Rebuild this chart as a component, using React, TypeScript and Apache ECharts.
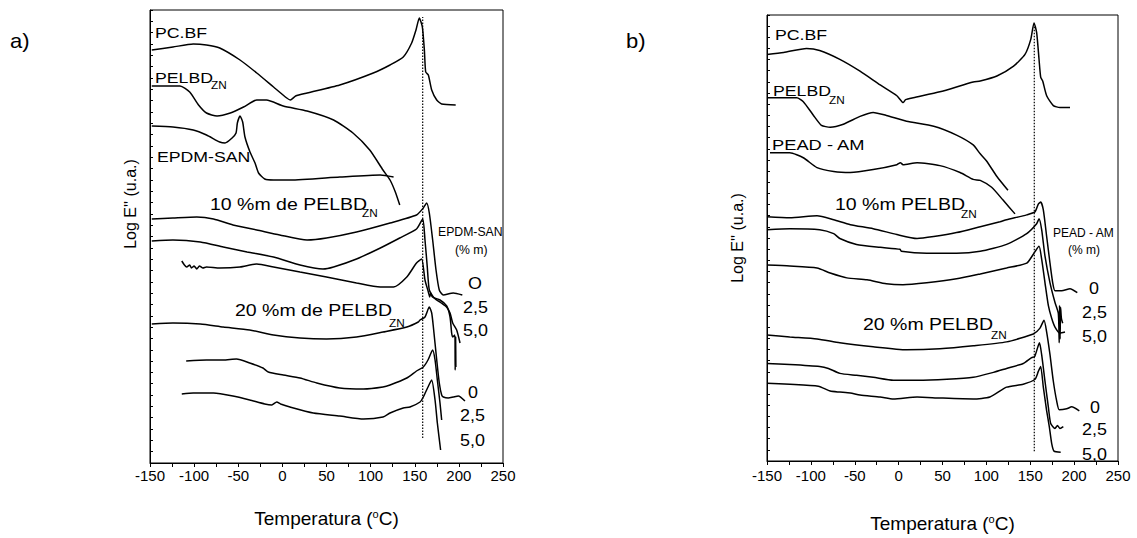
import React, { useEffect, useRef } from "react";
import * as echarts from "echarts";

// ---------- data: temperature (°C) vs Log E'' (arbitrary units, stacked) ----------
const X_MIN = -150;
const X_MAX = 250;
const X_STEP = 50;
const Y_MIN = 0;
const Y_MAX = 45.3;

// Panel a)
const PCBF_A = [[-148,41.3],[-124,41.6],[-101,41.9],[-86,41.8],[-71,41.5],[-48,40.3],[-29,39.0],[-10,37.6],[5,36.5],[9,36.3],[15,36.7],[28,37.0],[65,37.8],[103,39.0],[122,39.8],[137,40.6],[146.5,42.0],[151.4,43.3],[155.2,44.5],[158.6,43.6],[160.9,41.3],[162.4,39.1],[165.4,38.8],[169.2,37.3],[174.9,36.3],[180.5,35.9],[196.4,35.8]];
const PELBD_A = [[-148,37.7],[-116,37.7],[-105,37.1],[-95,35.8],[-86,35.0],[-74,34.7],[-59,35.0],[-44,35.6],[-29,36.3],[-18,36.3],[1,35.7],[28,35.2],[58,34.3],[80,33.0],[99,31.3],[114,29.3],[122,28.3],[128,27.1],[133,25.8]];
const EPDM_A = [[-148,33.7],[-124,33.6],[-101,33.3],[-86,32.8],[-71,32.1],[-65,32.0],[-57,32.5],[-52.5,33.0],[-51,34.0],[-48,34.7],[-45,34.1],[-42.4,32.6],[-36.7,31.1],[-31,30.0],[-27,29.0],[-20,28.4],[-10,28.3],[9,28.3],[65,28.6],[111,28.8],[126,28.6]];
const A10_0 = [[-148,24.4],[-124,24.5],[-97,24.6],[-78,24.4],[-56,23.8],[-29,23.3],[-3,22.8],[28,22.3],[50,22.5],[84,23.1],[122,24.0],[152,24.8],[159.7,25.5],[163.5,26.0],[166.5,25.0],[170.3,22.3],[174.1,19.3],[177.8,17.3],[182.4,16.8],[193.7,17.0],[203.9,16.8]];
const A10_25 = [[-148,22.2],[-124,22.3],[-93,22.1],[-67,21.6],[-40,21.1],[-10,20.6],[20,19.8],[46,19.4],[58,19.6],[84,20.4],[111,21.5],[133,22.5],[152,23.4],[159,24.4],[161.6,22.3],[164.2,19.6],[166.5,17.3],[172,16.5],[180,16.0],[186,15.6],[190,15.0],[193,14.0],[197.5,13.3],[201.3,12.0]];
const A10_50 = [[-114,20.2],[-111,19.8],[-108.4,19.6],[-105,19.8],[-103,19.5],[-100,19.7],[-97,19.4],[-94,19.7],[-90,19.5],[-86,19.6],[-71,19.5],[-48,19.6],[-29,19.9],[-10,19.6],[20,19.1],[50,18.6],[84,18.0],[111,17.6],[126,17.6],[141,18.6],[152,20.0],[157.8,20.4],[161.6,18.3],[165.4,17.1],[167,16.6],[168,17.0],[170,16.6],[178.6,16.3],[186.2,15.7],[190,14.6],[191.8,13.0],[193,12.6],[195.5,12.8],[195.8,9.3],[196.3,12.6],[196.6,9.6]];
const A20_0 = [[-148,13.9],[-124,14.0],[-93,13.9],[-67,13.6],[-37,13.3],[-10,12.8],[20,12.5],[50,12.4],[84,12.6],[114,13.1],[141,13.6],[154,14.1],[156,14.3],[161.6,14.6],[166.5,15.6],[169.2,15.0],[171.1,13.6],[174.9,10.3],[177.8,8.0],[180.5,6.8],[182.4,6.6],[188,6.5],[193.7,6.6],[199.4,6.7],[206.9,6.2]];
const A20_25 = [[-109,10.2],[-86,10.3],[-67,10.3],[-52,10.4],[-37,10.0],[-22,9.5],[-16,9.1],[1,8.8],[20,8.5],[39,8.0],[65,7.5],[92,7.4],[114,7.6],[122,7.8],[141,8.5],[152,9.2],[159.7,9.6],[165,10.3],[170.3,11.3],[173,10.3],[175.6,8.3],[178.6,6.0],[180.5,4.3]];
const A20_50 = [[-114,6.9],[-101,7.0],[-78,7.0],[-56,6.7],[-37,6.3],[-20,5.9],[-12,5.8],[-6.4,6.1],[-2,5.9],[8.6,5.6],[35,5.0],[65,4.7],[92,4.4],[114,4.6],[122,5.0],[137,5.5],[144.6,5.6],[156,6.1],[159.7,6.6],[165,7.6],[169.2,8.3],[173,6.3],[175.6,4.0],[179.3,1.3]];
const REF_A = [[159,2.5],[159,44.6]];

// Panel b)
const PCBF_B = [[-150,41.3],[-131,41.5],[-105,41.9],[-90,41.7],[-67,40.8],[-44,39.6],[-21,38.2],[-2,37.1],[5.3,36.4],[8,36.7],[16.7,36.9],[47,37.5],[85,38.5],[93,38.6],[112,39.1],[131,40.1],[144,41.3],[150.5,42.8],[154.3,44.5],[157.3,43.5],[160,40.8],[161.9,39.0],[164.2,38.6],[168.7,37.1],[176.3,36.1],[183.9,35.9],[195.3,35.9]];
const PELBD_B = [[-150,36.9],[-116,36.9],[-108.6,36.5],[-97,35.1],[-88,34.1],[-78,33.9],[-63,34.2],[-44,35.0],[-29,35.4],[-14,35.1],[9,34.5],[40,34.0],[66,33.1],[85,32.1],[93,31.2],[100,30.5],[112,28.9],[124.6,27.5]];
const PEAD_B = [[-146.6,31.3],[-124,31.3],[-108.6,30.8],[-93,29.8],[-74,29.4],[-55,29.3],[-29,29.6],[-2,30.1],[2,30.3],[5,30.1],[21,30.3],[47,30.0],[70,29.3],[85,28.6],[93,28.5],[106,27.8],[119,26.5],[132.6,25.1]];
const B10_0 = [[-150,24.8],[-124,24.7],[-93,24.9],[-74,24.5],[-55,24.0],[-29,23.6],[-2,23.0],[21,22.6],[40,22.8],[66,23.2],[93,23.8],[115.5,24.3],[123,24.5],[146,25.0],[155.4,25.3],[159.2,26.1],[161.9,26.3],[164.9,25.5],[168.7,22.8],[172.5,20.1],[175.6,18.1],[178.2,17.3],[185.8,17.3],[195.3,17.5],[203.6,17.1]];
const B10_25 = [[-150,23.5],[-124,23.6],[-90,23.5],[-74,23.1],[-67,22.6],[-48,22.0],[-21,21.7],[1.6,21.5],[3,21.3],[32,21.1],[66,21.1],[93,21.3],[123,22.0],[146,23.1],[157.3,24.1],[160,24.6],[163,23.5],[166.8,20.8],[172.5,18.1],[178.2,16.1],[182,15.0],[183,12.0],[183.4,15.8],[184,12.4],[184.6,15.6],[185.5,14.5],[187,14.0]];
const B10_50 = [[-150,19.9],[-124,19.8],[-93,19.6],[-78,19.1],[-59,18.6],[-36,18.4],[-14,18.0],[5,17.9],[32,18.1],[66,18.5],[93,19.0],[123,19.6],[146,20.1],[153.5,21.0],[160,21.8],[163,20.5],[166.8,18.1],[170.6,15.8],[174.4,14.5],[178.2,13.6],[183.9,13.0],[189.6,13.1]];
const B20_0 = [[-150,12.8],[-124,12.6],[-93,12.4],[-67,12.0],[-29,11.6],[9,11.3],[47,11.4],[85,11.7],[123,12.1],[153.5,12.9],[161.1,13.5],[165.7,14.3],[168.7,13.1],[172.5,10.8],[176.3,8.1],[180.1,6.1],[183.1,5.2],[191.5,5.3],[197.2,5.5],[205.9,5.1]];
const B20_25 = [[-150,9.9],[-124,9.8],[-90,9.6],[-80,9.4],[-67,8.9],[-48,8.7],[-29,8.5],[-6,8.2],[21,8.2],[55,8.3],[85,8.5],[108,9.0],[123,9.4],[142,9.9],[151.6,10.5],[155,10.6],[160.5,12.0],[163,10.8],[166.8,8.1],[170.6,5.5],[173.3,3.8],[178.2,3.3],[181,3.6],[183.9,3.3],[187.7,3.5]];
const B20_50 = [[-150,7.9],[-124,7.8],[-91.5,7.6],[-78,7.1],[-67,7.0],[-55,6.9],[-44,6.7],[-21,6.5],[-6,6.3],[21,6.5],[47,6.4],[85,6.3],[104,6.5],[123,7.5],[142,7.8],[155.4,8.3],[159.2,9.1],[161.9,9.6],[164.9,7.5],[168.7,5.1],[171.7,3.5],[174.4,1.8],[177.1,1.0],[184.7,0.9]];
const REF_B = [[154.6,1.0],[154.6,44.2]];

const PANEL_A_CURVES = [PCBF_A, PELBD_A, EPDM_A, A10_0, A10_25, A10_50, A20_0, A20_25, A20_50];
const PANEL_B_CURVES = [PCBF_B, PELBD_B, PEAD_B, B10_0, B10_25, B10_50, B20_0, B20_25, B20_50];

const X_NAME = "Temperatura ({sup|o}C)";
const Y_NAME = "Log E'' (u.a.)";

// ---------- styling ----------
const FONT = "'Liberation Sans', Arial, Helvetica, sans-serif";

function txt(text: string, x: number, y: number, size: number, scale = 1.18, rotation = 0, align = "left") {
  return {
    type: "text",
    x,
    y,
    scaleX: scale,
    rotation,
    silent: true,
    style: {
      text,
      fontSize: size,
      fontFamily: FONT,
      fill: "#000",
      textAlign: align,
      textVerticalAlign: "middle",
      align,
      verticalAlign: "middle",
    },
  };
}

function xAxisFor(gridIndex: number, labelMargin: number, nameGap: number) {
  return {
    type: "value",
    gridIndex,
    min: X_MIN,
    max: X_MAX,
    interval: X_STEP,
    axisLine: { show: true, onZero: false, lineStyle: { color: "#000", width: 1 } },
    axisTick: { show: true, inside: false, length: 4, lineStyle: { color: "#000" } },
    minorTick: { show: true, splitNumber: 2, length: 4, lineStyle: { color: "#000" } },
    splitLine: { show: false },
    axisLabel: { color: "#000", fontSize: 15, fontFamily: FONT, margin: labelMargin },
    name: X_NAME,
    nameLocation: "middle",
    nameGap,
    nameTextStyle: {
      color: "#000",
      fontSize: 19,
      fontFamily: FONT,
      rich: {
        sup: { fontSize: 11, fontFamily: FONT, color: "#000", padding: [0, 0, 10, 0] },
      },
    },
  };
}

function yAxisFor(gridIndex: number, showName: boolean, nameGap: number) {
  return {
    type: "value",
    gridIndex,
    min: Y_MIN,
    max: Y_MAX,
    interval: (Y_MAX - Y_MIN) / 40,
    axisLine: { show: true, onZero: false, lineStyle: { color: "#000", width: 1 } },
    axisTick: { show: true, inside: true, length: 3, lineStyle: { color: "#000" } },
    splitLine: { show: false },
    axisLabel: { show: false },
    name: showName ? Y_NAME : "",
    nameLocation: "middle",
    nameGap,
    nameRotate: 90,
    nameTextStyle: { color: "#000", fontSize: 16, fontFamily: FONT },
  };
}

function curveSeries(data: number[][], idx: number) {
  return {
    type: "line",
    xAxisIndex: idx,
    yAxisIndex: idx,
    data,
    showSymbol: false,
    symbol: "none",
    smooth: 0.2,
    silent: true,
    lineStyle: { color: "#000", width: 1.5 },
  };
}

function refSeries(data: number[][], idx: number) {
  return {
    type: "line",
    xAxisIndex: idx,
    yAxisIndex: idx,
    data,
    showSymbol: false,
    symbol: "none",
    silent: true,
    lineStyle: { color: "#000", width: 1.2, type: [1.5, 1.5] },
  };
}

export default function App() {
  const ref = useRef<HTMLDivElement>(null);

  useEffect(() => {
    document.body.style.margin = "0";
    if (!ref.current) return;
    const chart = echarts.init(ref.current, null, { renderer: "svg" });

    const series: any[] = [];
    PANEL_A_CURVES.forEach((c) => series.push(curveSeries(c, 0)));
    series.push(refSeries(REF_A, 0));
    PANEL_B_CURVES.forEach((c) => series.push(curveSeries(c, 1)));
    series.push(refSeries(REF_B, 1));

    const graphics: any[] = [
      txt("a)", 10, 41, 20, 1.1),
      txt("b)", 626, 41, 20, 1.1),
      // panel a y-axis title (sits above the panel's centre in the original)
      txt(Y_NAME, 130, 204, 16, 1.0, Math.PI / 2, "center"),
      // panel a labels
      txt("PC.BF", 155, 33, 15),
      txt("PELBD", 155, 78, 15),
      txt("ZN", 211, 85, 10),
      txt("EPDM-SAN", 157, 157, 15),
      txt("10 %m de PELBD", 210, 205, 16, 1.22),
      txt("ZN", 362, 213, 10),
      txt("20 %m de PELBD", 235, 311, 16, 1.22),
      txt("ZN", 389, 323, 10),
      txt("EPDM-SAN", 438, 232, 12, 1.02),
      txt("(% m)", 455, 250, 12, 1.02),
      txt("O", 468, 284, 16, 1.12),
      txt("2,5", 463, 308, 16, 1.12),
      txt("5,0", 463, 331, 16, 1.12),
      txt("0", 468, 393, 16, 1.12),
      txt("2,5", 460, 416, 16, 1.12),
      txt("5,0", 460, 441, 16, 1.12),
      // panel b labels
      txt("PC.BF", 775, 35, 15),
      txt("PELBD", 773, 91, 15),
      txt("ZN", 829, 100, 10),
      txt("PEAD - AM", 772, 145, 15, 1.22),
      txt("10 %m PELBD", 835, 205, 16, 1.22),
      txt("ZN", 961, 214, 10),
      txt("20 %m PELBD", 863, 325, 16, 1.22),
      txt("ZN", 991, 335, 10),
      txt("PEAD - AM", 1053, 233, 12, 1.0),
      txt("(% m)", 1068, 250, 12, 1.0),
      txt("0", 1089, 289, 16, 1.12),
      txt("2,5", 1082, 313, 16, 1.12),
      txt("5,0", 1082, 337, 16, 1.12),
      txt("0", 1090, 408, 16, 1.12),
      txt("2,5", 1082, 430, 16, 1.12),
      txt("5,0", 1082, 455, 16, 1.12),
    ];

    chart.setOption({
      animation: false,
      backgroundColor: "#fff",
      grid: [
        { left: 150, top: 10, width: 353, height: 453, show: true, borderColor: "#000", borderWidth: 1, backgroundColor: "transparent" },
        { left: 767, top: 15, width: 351, height: 453, show: true, borderColor: "#000", borderWidth: 1, backgroundColor: "transparent" },
      ],
      xAxis: [xAxisFor(0, 5, 45), xAxisFor(1, 7, 52)],
      yAxis: [yAxisFor(0, false, 12), yAxisFor(1, true, 22)],
      series,
      graphic: graphics,
    });

    return () => chart.dispose();
  }, []);

  return <div ref={ref} style={{ width: 1137, height: 538 }} />;
}
